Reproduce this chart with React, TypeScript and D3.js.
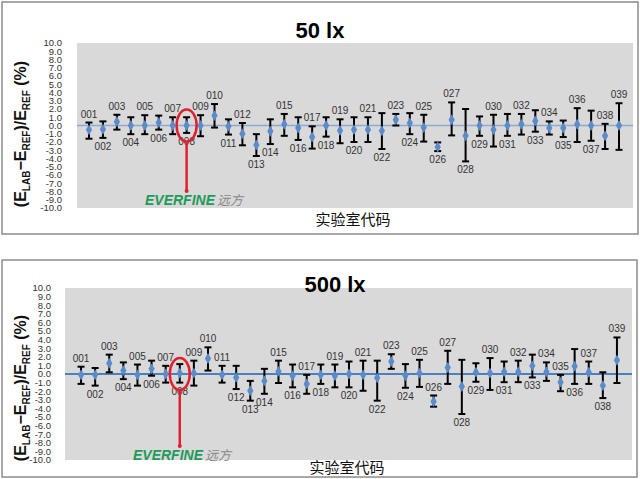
import React, { useRef, useEffect } from 'react';
import * as d3 from 'd3';

// laboratory codes
const codes = [
  '001', '002', '003', '004', '005', '006', '007', '008', '009', '010',
  '011', '012', '013', '014', '015', '016', '017', '018', '019', '020',
  '021', '022', '023', '024', '025', '026', '027', '028', '029', '030',
  '031', '032', '033', '034', '035', '036', '037', '038', '039',
];

const yTicks = [10, 9, 8, 7, 6, 5, 4, 3, 2, 1, 0, -1, -2, -3, -4, -5, -6, -7, -8, -9, -10];

// 50 lx: deviation, upper and lower end of error bar (%)
const val50 = [-0.53, -0.45, 0.45, 0, 0, 0.35, 0, 0, 0, 1.2, -0.1, -1.0, -2.35, -0.7, 0.15, -0.3, -1.4, 0, -0.6, -0.5,
  -0.5, -0.65, 0.7, 0.3, -0.25, -2.6, 0.7, -1.25, 0, -0.5, 0, 0.15, 0.55, -0.3, -0.3, 0.15, 0, -1.25, 0];
const hi50 = [0.36, 0.5, 1.3, 1.0, 1.25, 1.2, 1.0, 1.0, 1.25, 2.6, 0.75, 0.3, -1.05, 0.75, 1.4, 1.0, -0.1, 1.0, 0.75, 1.0,
  1.0, 1.5, 1.4, 1.5, 1.3, -2.05, 2.8, 2.0, 1.1, 1.3, 1.4, 1.4, 1.85, 0.5, 0.6, 2.1, 1.8, 0.2, 2.7];
const lo50 = [-1.6, -1.5, -0.5, -1.05, -1.05, -0.5, -1.05, -0.9, -1.3, -0.25, -1.1, -2.4, -3.7, -2.25, -1.25, -1.75, -2.8, -1.35, -2.15, -2.0,
  -2.0, -2.85, 0.0, -1.05, -1.95, -3.1, -1.2, -4.35, -1.25, -2.55, -1.25, -1.1, -0.75, -1.1, -1.4, -2.0, -1.85, -2.85, -2.95];
// label above (a) or below (b) the error bar
const side50 = [
  'a', 'b', 'a', 'b', 'a', 'b', 'a', 'b', 'a', 'a',
  'b', 'a', 'b', 'b', 'a', 'b', 'a', 'b', 'a', 'b',
  'a', 'b', 'a', 'b', 'a', 'b', 'a', 'b', 'b', 'a',
  'b', 'a', 'b', 'a', 'b', 'a', 'b', 'a', 'a',
];

// 500 lx
const val500 = [-0.1, -0.1, 1.25, 0.4, -0.1, 0.6, 0, 0.1, 0.1, 1.8, -0.1, -0.4, -1.95, -0.8, 0.3, -0.2, -1.15, -0.1, -0.2, 0,
  -0.1, -0.45, 1.45, -0.2, 0.1, -3.2, 0.75, -1.45, 0.2, 0.1, 0.25, 0.25, 0.95, 0.25, -0.95, 0.9, 0.2, -1.35, 1.6];
const hi500 = [0.85, 0.7, 2.25, 1.35, 1.1, 1.55, 0.95, 1.15, 1.55, 3.1, 0.95, 0.95, -0.8, 0.6, 1.55, 1.1, -0.1, 1.1, 1.1, 1.45,
  1.55, 1.55, 2.3, 1.15, 1.65, -2.5, 2.7, 1.65, 1.25, 1.85, 1.45, 1.55, 2.25, 1.35, -0.1, 2.9, 1.45, 0.2, 4.25];
const lo500 = [-1.15, -1.35, 0.2, -0.6, -1.35, -0.2, -1.0, -1.0, -1.35, 0.4, -1.0, -1.75, -3.1, -2.3, -1.05, -1.55, -2.3, -1.15, -1.55, -1.55,
  -1.95, -3.1, 0.6, -1.6, -1.5, -3.8, -1.15, -4.65, -0.9, -1.85, -0.95, -0.95, -0.4, -0.8, -2.0, -1.15, -1.15, -2.8, -1.05];
const side500 = [
  'a', 'b', 'a', 'b', 'a', 'b', 'a', 'b', 'a', 'a',
  'a', 'b', 'b', 'b', 'a', 'b', 'a', 'b', 'a', 'b',
  'a', 'b', 'a', 'b', 'a', 'a', 'a', 'b', 'b', 'a',
  'b', 'a', 'b', 'a', 'a', 'b', 'a', 'b', 'a',
];

const highlight = '008';

const FONT = '"Liberation Sans", Arial, sans-serif';

const panels = [
  {
    title: '50 lx', val: val50, hi: hi50, lo: lo50, side: side50,
    frame: [2, 2, 636, 232], plot: [77, 633, 43, 208], band: [82, 626],
    titlePos: [320, 38], yTitle: [26, 134], yLab: 62, xTitle: [353, 225], logo: [145, 205],
    zero: '#8eaad0', zeroW: 1.5, markY: 190,
  },
  {
    title: '500 lx', val: val500, hi: hi500, lo: lo500, side: side500,
    frame: [2, 260, 635, 217], plot: [65, 632, 288, 460], band: [74, 624],
    titlePos: [335, 292], yTitle: [26, 388], yLab: 51, xTitle: [347, 473], logo: [133, 460],
    zero: '#4a7fc0', zeroW: 2, markY: 445,
  },
];

const App: React.FC = () => {
  const ref = useRef(null);

  useEffect(() => {
    d3.select(ref.current).select('svg').remove();

    const svg = d3.select(ref.current)
      .append('svg')
      .attr('width', 640)
      .attr('height', 479)
      .style('display', 'block');

    svg.append('rect').attr('width', 640).attr('height', 479).attr('fill', '#fff');

    panels.forEach(p => {
      const g = svg.append('g');
      const [fx, fy, fw, fh] = p.frame;
      g.append('rect')
        .attr('x', fx).attr('y', fy).attr('width', fw).attr('height', fh)
        .attr('fill', '#fff').attr('stroke', '#8c8c8c').attr('stroke-width', 1.5);

      const [px0, px1, py0, py1] = p.plot;
      const x = d3.scaleBand().domain(codes).range(p.band as [number, number]);
      const y = d3.scaleLinear().domain([-10, 10]).range([py1, py0]);
      const cx = (c: string) => (x(c) as number) + x.bandwidth() / 2;

      g.append('rect')
        .attr('x', px0).attr('y', py0).attr('width', px1 - px0).attr('height', py1 - py0)
        .attr('fill', '#d9d9d9');

      // y tick labels (tightly packed as in the source)
      g.selectAll('.ytick')
        .data(yTicks)
        .enter().append('text')
        .attr('x', p.yLab)
        .attr('y', d => y(d))
        .attr('dy', '0.36em')
        .attr('text-anchor', 'end')
        .style('font-family', FONT)
        .style('font-size', '9.5px')
        .attr('fill', '#333')
        .text(d => d.toFixed(1));

      // zero line
      g.append('line')
        .attr('x1', px0).attr('x2', px1)
        .attr('y1', y(0)).attr('y2', y(0))
        .attr('stroke', p.zero).attr('stroke-width', p.zeroW);

      const rows = codes.map((c, i) => ({ c, v: p.val[i], hi: p.hi[i], lo: p.lo[i], s: p.side[i] }));

      // error bars
      const eb = g.selectAll('.eb').data(rows).enter().append('g');
      eb.append('line')
        .attr('x1', d => cx(d.c)).attr('x2', d => cx(d.c))
        .attr('y1', d => y(d.hi)).attr('y2', d => y(d.lo))
        .attr('stroke', '#000').attr('stroke-width', 2);
      ['hi', 'lo'].forEach(k => {
        eb.append('line')
          .attr('x1', d => cx(d.c) - 3.5).attr('x2', d => cx(d.c) + 3.5)
          .attr('y1', d => y(d[k])).attr('y2', d => y(d[k]))
          .attr('stroke', '#000').attr('stroke-width', 2);
      });

      // markers
      g.selectAll('.pt').data(rows).enter().append('path')
        .attr('d', d3.symbol().type(d3.symbolDiamond).size(34))
        .attr('transform', d => `translate(${cx(d.c)},${y(d.v)})`)
        .attr('fill', '#5b8bc9');

      // labels
      g.selectAll('.lab').data(rows).enter().append('text')
        .attr('x', d => cx(d.c))
        .attr('y', d => (d.s === 'a' ? y(d.hi) - 5 : y(d.lo) + 12))
        .attr('text-anchor', 'middle')
        .style('font-family', FONT)
        .style('font-size', '10px')
        .attr('fill', '#333')
        .text(d => d.c);

      // highlight ring
      const hx = cx(highlight);
      g.append('ellipse')
        .attr('cx', hx).attr('cy', y(0)).attr('rx', 10).attr('ry', 16)
        .attr('fill', 'none').attr('stroke', '#e0202e').attr('stroke-width', 2.5);
      g.append('line')
        .attr('x1', hx).attr('x2', hx).attr('y1', y(0) + 16).attr('y2', p.markY)
        .attr('stroke', '#e0202e').attr('stroke-width', 2.5);
      g.append('circle').attr('cx', hx).attr('cy', p.markY + 1).attr('r', 2).attr('fill', '#e0202e');

      // logo
      const logo = g.append('text')
        .attr('x', p.logo[0]).attr('y', p.logo[1])
        .style('font-family', FONT).style('font-style', 'italic');
      logo.append('tspan').attr('fill', '#1f9a5a').style('font-weight', 'bold').style('font-size', '14px').text('EVERFINE');
      logo.append('tspan').attr('fill', '#8a8a8a').style('font-size', '13px')
        .style('font-family', '"Noto Sans CJK SC", sans-serif').attr('dx', 2).text('远方');

      // titles
      g.append('text')
        .attr('x', p.titlePos[0]).attr('y', p.titlePos[1])
        .attr('text-anchor', 'middle')
        .style('font-family', FONT).style('font-weight', 'bold').style('font-size', '22px')
        .attr('fill', '#000')
        .text(p.title);

      g.append('text')
        .attr('x', p.xTitle[0]).attr('y', p.xTitle[1])
        .attr('text-anchor', 'middle')
        .style('font-family', '"Noto Sans CJK SC", sans-serif').style('font-size', '15px')
        .attr('fill', '#111')
        .text('实验室代码');

      const yt = g.append('text')
        .attr('transform', `translate(${p.yTitle[0]},${p.yTitle[1]}) rotate(-90)`)
        .attr('text-anchor', 'middle')
        .style('font-family', FONT).style('font-weight', 'bold').style('font-size', '16px')
        .attr('fill', '#111');
      const parts: [string, boolean][] = [['(E', false], ['LAB', true], ['−E', false], ['REF', true], [')/E', false], ['REF', true], [' (%)', false]];
      parts.forEach(([t, sub], i) => {
        const prevSub = i > 0 && parts[i - 1][1];
        const ts = yt.append('tspan').text(t);
        if (sub) ts.style('font-size', '10px').attr('dy', 4);
        else if (prevSub) ts.attr('dy', -4);
      });
    });
  }, []);

  return <div ref={ref} style={{ position: 'absolute', left: 0, top: 0 }} />;
};

export default App;
